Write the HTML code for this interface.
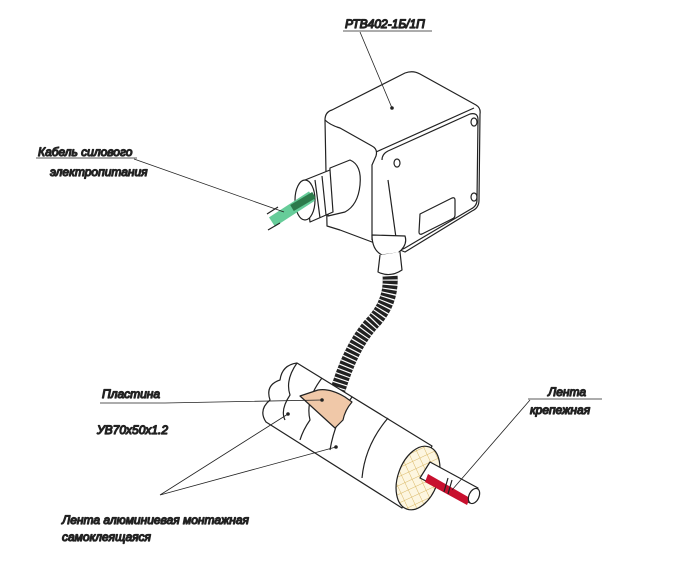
<!DOCTYPE html><html><head><meta charset="utf-8"><style>body{margin:0;background:#fff}svg{display:block}text{font-family:"Liberation Sans",sans-serif;font-style:italic;font-size:12px;fill:#333}</style></head><body>
<svg width="678" height="568" viewBox="0 0 678 568" fill="none" stroke="#222" stroke-width="1.2" stroke-linejoin="round">
<defs><pattern id="h" width="8" height="8" patternUnits="userSpaceOnUse" patternTransform="rotate(45)"><rect width="8" height="8" fill="#fdf6e0" stroke="none"/><path d="M0 0V8M0 0H8" stroke="#d9b866" stroke-width="1"/></pattern></defs>
<!-- box -->
<path d="M325 120 Q325 112 332 110 L405 73 Q413 70 420 74 L476 105 Q481 108 480 114 L479 200 Q479 208 472 211 L405 252 L400 250 L372 242 L340 230 L327 226 Z" fill="#fff"/>
<path d="M325 120 Q330 125 340 128 L372 146 Q378 149 376 156 L372 165 L372 240"/>
<path d="M376 152 L474 108"/>
<path d="M382 160 Q382 154 388 151 L470 114 Q478 112 478 120 L477 200 Q477 206 471 209 L405 248 Q398 252 397 245 L388 180"/>
<ellipse cx="397" cy="163" rx="3" ry="4"/><ellipse cx="474" cy="122" rx="3" ry="4"/><ellipse cx="474" cy="197" rx="3" ry="4"/>
<path d="M420 214 L452 198 Q455 197 455 200 L455 215 Q455 218 452 219 L422 234 Q419 235 419 232 Z"/>
<circle cx="392" cy="108" r="1.2" fill="#222"/>
<!-- gland -->
<path d="M330 168 L350 160 Q362 165 360 185 Q358 205 345 212 L328 216 Z" fill="#fff"/>
<path d="M305 180 L330 170 L333 212 L310 222 Z" fill="#fff"/>
<ellipse cx="305" cy="200" rx="10" ry="20" fill="#fff"/>
<path d="M315 180 L320 218 M322 176 L326 215"/>
<!-- cable -->
<path d="M272 222 L312 196" stroke="#6c9" stroke-width="11"/>
<path d="M292 208 L314 195" stroke="#2c7a4a" stroke-width="7"/>
<path d="M268 230 L280 223 M267 214 L278 207"/>
<!-- elbow -->
<path d="M372 235 Q372 250 382 255 L398 253 Q408 245 405 236 Z" fill="#fff"/>
<path d="M380 255 L378 272 Q390 278 402 270 L400 252" fill="#fff"/>
<!-- hose -->
<path d="M390 275 Q392 300 375 320 Q350 345 335 400" stroke="#222" stroke-width="15" stroke-linecap="butt"/>
<path d="M390 275 Q392 300 375 320 Q350 345 335 400" stroke="#fff" stroke-width="15" stroke-dasharray="1.2 3.3"/>
<!-- pipe -->
<path d="M297 363 L432 446 L402 508 L266 422 Q258 410 270 400 Q265 385 280 380 Q282 365 297 363 Z" fill="#fff"/>
<path d="M297 363 Q285 380 290 395 Q280 410 285 420"/>
<path d="M322 378 Q305 400 310 420 Q303 430 300 440"/>
<path d="M352 397 Q335 420 330 450"/>
<path d="M388 418 Q365 445 362 478"/>
<path d="M300 396 L318 390 Q330 388 345 397 L352 402 Q345 410 343 420 L335 428 Z" fill="#f0c8a8" stroke="#222"/>
<ellipse cx="418" cy="478" rx="20" ry="33" transform="rotate(20 418 478)" fill="url(#h)"/>
<path d="M420 478 L470 503 L478 488 L430 462 Z" fill="#fff"/>
<path d="M428 474 L470 498 L467 505 L425 482 Z" fill="#c8102e" stroke="none"/>
<ellipse cx="474" cy="496" rx="5" ry="8" transform="rotate(25 474 496)" fill="#fff"/>
<path d="M448 478 L444 492 M452 480 L448 494"/>
<circle cx="288" cy="414" r="1.2" fill="#222"/><circle cx="336" cy="447" r="1.2" fill="#222"/><circle cx="322" cy="400" r="1.2" fill="#222"/>
<!-- leaders -->
<g stroke-width="0.8">
<path d="M343 31 H432 M360 32 L392 108"/>
<path d="M36 158 H137 M134 159 L284 212"/>
<path d="M100 403 H165 L322 400"/>
<path d="M528 399 H602 M530 400 L452 490"/>
<path d="M160 495 L288 414 M160 495 L336 447"/>
</g>
<text x="345" y="28">РТВ402-1Б/1П</text>
<text x="38" y="156">Кабель силового</text>
<text x="50" y="176">электропитания</text>
<text x="102" y="398">Пластина</text>
<text x="97" y="434">УВ70х50х1.2</text>
<text x="548" y="396">Лента</text>
<text x="530" y="414">крепежная</text>
<text x="62" y="524">Лента алюминиевая монтажная</text>
<text x="62" y="541">самоклеящаяся</text>
</svg></body></html>
